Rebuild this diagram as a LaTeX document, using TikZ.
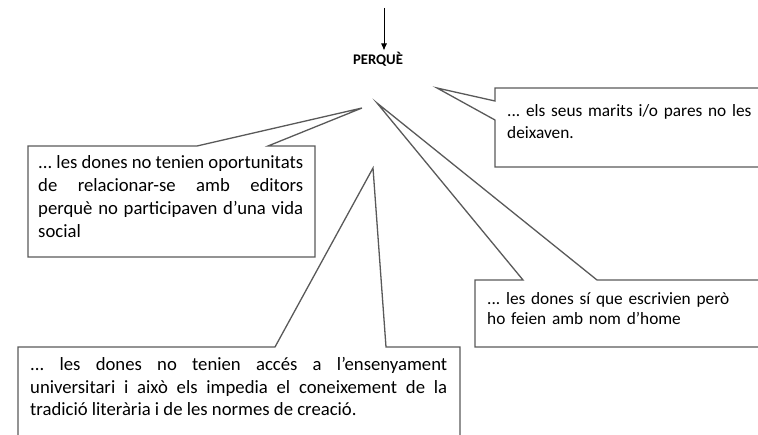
\documentclass[tikz,border=0pt]{standalone}
\usepackage{fontspec}
\setmainfont{Carlito}
\usetikzlibrary{arrows.meta, positioning}
\hyphenpenalty=10000
\exhyphenpenalty=10000
\frenchspacing

\begin{document}
\begin{tikzpicture}[
  x=1pt, y=-1pt,
  txt/.style={inner sep=0pt, anchor=base west, align=left, font=\fontsize{17.3}{21.5}\selectfont},
  just/.style={txt, align=justify, font=\fontsize{18.7}{23}\selectfont},
  callout/.style={draw=black!65, line width=1.3pt, line join=miter},
  arr/.style={-{Latex[length=7pt,width=6pt]}, line width=0.8pt}
]
\useasboundingbox (0,0) rectangle (758,435);
\clip (0,0) rectangle (758,435);

% tips of the callouts
\coordinate (tipA) at (362,108);
\coordinate (tipB) at (437,88);
\coordinate (tipC) at (373,168);
\coordinate (tipD) at (377,103);

\coordinate (start) at (384,8);
\node[inner sep=0pt, anchor=base, font=\bfseries\fontsize{14.7}{17}\selectfont] (perque) at (378,65) {PERQUÈ};
\draw[arr, shorten >=2pt] (start) -- (start |- perque.north);

% callout outlines
\draw[callout] (28,146) -- (197,146) -- (tipA) -- (268,146) -- (315,146) -- (315,257) -- (28,257) -- cycle;
\draw[callout] (495,88) -- (775,88) -- (775,167) -- (495,167) -- (495,120) -- (tipB) -- (495,101) -- cycle;
\draw[callout] (18,347) -- (275,347) -- (tipC) -- (386,347) -- (460,347) -- (460,450) -- (18,450) -- cycle;
\draw[callout] (475,280) -- (523,280) -- (tipD) -- (597,280) -- (775,280) -- (775,347) -- (475,347) -- cycle;

\node[just, text width=265pt] (social) at (38,169) {... les dones no tenien oportunitats\linebreak de relacionar-se amb editors\linebreak perquè no participaven d’una vida\linebreak social};
\node[txt, text width=330pt] (marits) at (507,117) {... els seus marits i/o pares no les\\deixaven.};
\node[just, text width=417pt, font=\fontsize{18.7}{22.5}\selectfont] (estudis) at (30,371) {... les dones no tenien accés a l’ensenyament\linebreak universitari i això els impedia el coneixement de la\linebreak tradició literària i de les normes de creació.};
\node[txt, text width=330pt, font=\fontsize{17.3}{20}\selectfont] (home) at (487,305) {... les dones sí que escrivien però\\ho feien amb nom d’home};
\end{tikzpicture}
\end{document}
